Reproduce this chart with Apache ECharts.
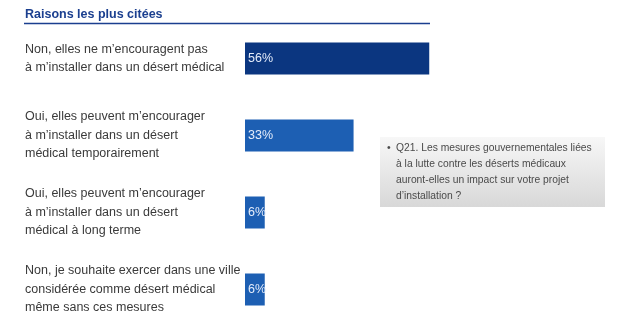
<!DOCTYPE html>
<html>
<head>
<meta charset="utf-8">
<script src="https://cdn.jsdelivr.net/npm/echarts@6/dist/echarts.min.js"></script>
<style>html,body{margin:0;padding:0;background:#fff}#c{width:627px;height:328px}</style>
</head>
<body>
<div id="c"></div>
<script>
const categories = [
  "Non, elles ne m\u2019encouragent pas\n\u00e0 m\u2019installer dans un d\u00e9sert m\u00e9dical",
  "Oui, elles peuvent m\u2019encourager\n\u00e0 m\u2019installer dans un d\u00e9sert\nm\u00e9dical temporairement",
  "Oui, elles peuvent m\u2019encourager\n\u00e0 m\u2019installer dans un d\u00e9sert\nm\u00e9dical \u00e0 long terme",
  "Non, je souhaite exercer dans une ville\nconsid\u00e9r\u00e9e comme d\u00e9sert m\u00e9dical\nm\u00eame sans ces mesures"
];
const values = [56, 33, 6, 6];
const title = "Raisons les plus cit\u00e9es";
const noteBullet = "\u2022";
const noteText = "Q21. Les mesures gouvernementales li\u00e9es\n\u00e0 la lutte contre les d\u00e9serts m\u00e9dicaux\nauront-elles un impact sur votre projet\nd\u2019installation ?";

const FONT = "'Liberation Sans Narrow', 'Liberation Sans', sans-serif";
const chart = echarts.init(document.getElementById('c'), null, {renderer: 'canvas'});
chart.setOption({
  animation: false,
  grid: {left: 245, right: 53, top: 20, bottom: 0, containLabel: false},
  xAxis: {type: 'value', min: 0, max: 100, show: false},
  yAxis: {
    type: 'category', data: categories, inverse: true,
    axisLine: {show: false}, axisTick: {show: false}, splitLine: {show: false},
    axisLabel: {
      align: 'left', margin: 220, fontFamily: FONT, fontSize: 12.5,
      lineHeight: 18.5, color: '#3a3a3a'
    }
  },
  series: [{
    type: 'bar', barWidth: 32,
    data: values.map((v, i) => ({value: v, itemStyle: {color: i === 0 ? '#0b3680' : '#1d5fb3'}})),
    label: {
      show: true, position: 'insideLeft', distance: 3,
      formatter: '{c}%', color: '#e4ecfa', fontFamily: FONT, fontSize: 12.5
    }
  }],
  graphic: [
    {type: 'text', left: 25, top: 8, style: {text: title, fontFamily: FONT, fontWeight: 'bold', fontSize: 12.5, fill: '#1b3f8f'}},
    {type: 'line', shape: {x1: 24, y1: 23.5, x2: 430, y2: 23.5}, style: {stroke: '#1b3f8f', lineWidth: 1.5}},
    {type: 'rect', shape: {x: 380, y: 137, width: 225, height: 70},
     style: {fill: new echarts.graphic.LinearGradient(0, 0, 0, 1, [{offset: 0, color: '#f7f7f7'}, {offset: 1, color: '#d8d8d8'}])}},
    {type: 'text', left: 387, top: 140, style: {text: noteBullet, fontFamily: FONT, fontSize: 10.5, lineHeight: 16, fill: '#4a4a4a'}},
    {type: 'text', left: 396, top: 140, style: {text: noteText, fontFamily: FONT, fontSize: 10.3, lineHeight: 16, fill: '#4a4a4a'}}
  ]
});
</script>
</body>
</html>
